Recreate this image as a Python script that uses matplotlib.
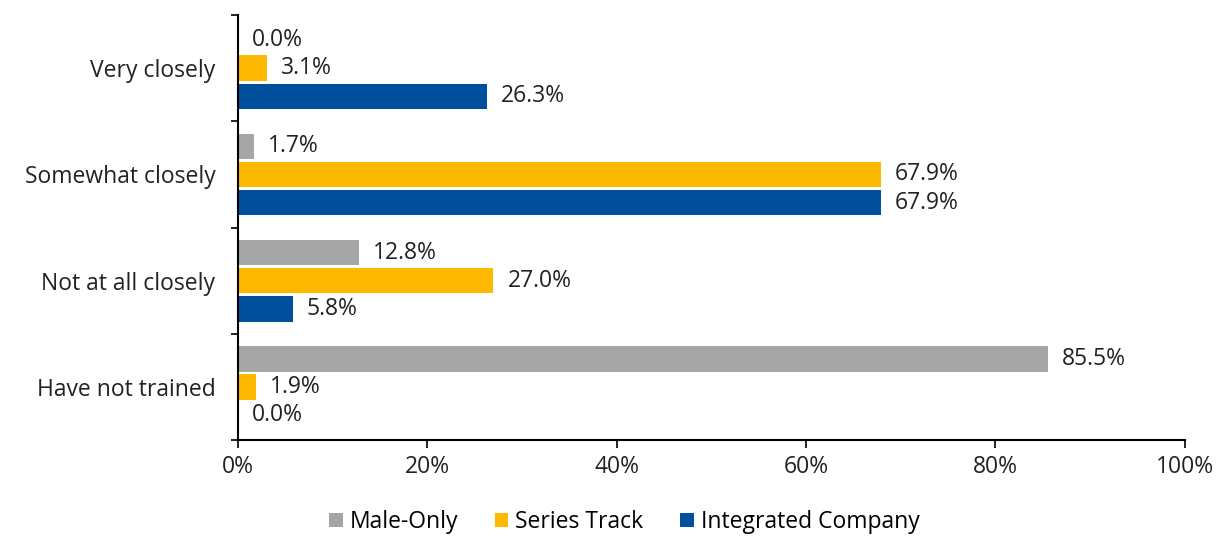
import matplotlib.pyplot as plt
import numpy as np

kategori = ["Very closely", "Somewhat closely", "Not at all closely", "Have not trained"]
seri = ["Male-Only", "Series Track", "Integrated Company"]
male_only = [0.0, 1.7, 12.8, 85.5]
series_track = [3.1, 67.9, 27.0, 1.9]
integrated = [26.3, 67.9, 5.8, 0.0]
warna = ["#A6A6A6", "#FFB800", "#00509E"]

plt.rcParams['font.family'] = ['Open Sans', 'DejaVu Sans']
fs = 16.5

fig = plt.figure(figsize=(12.19, 5.38), dpi=100)
ax = fig.add_axes([0.195, 0.182, 0.777, 0.79])

y = np.arange(len(kategori))
tinggi = 0.24
jarak = 0.265
for i, (nama, nilai) in enumerate(zip(seri, [male_only, series_track, integrated])):
    pos = y + (i - 1) * jarak
    ax.barh(pos, nilai, height=tinggi, color=warna[i], label=nama)
    for p, v in zip(pos, nilai):
        ax.text(v + 1.5, p, f"{v:.1f}%", va='center', ha='left', fontsize=fs, color='#222222')

ax.set_ylim(len(kategori) - 0.5, -0.5)
ax.set_xlim(0, 100)
ax.set_xticks(np.arange(0, 101, 20))
ax.set_xticklabels([f"{t}%" for t in range(0, 101, 20)], fontsize=fs, color='#222222')
ax.set_yticks(y)
ax.set_yticklabels(kategori, fontsize=fs, color='#222222')
ax.tick_params(axis='y', length=0, pad=16)
ax.set_yticks(np.arange(-0.5, len(kategori), 1), minor=True)
ax.tick_params(axis='y', which='minor', length=5, width=1.2)
ax.tick_params(axis='x', length=6, width=1.2, pad=5)
for s in ['top', 'right']:
    ax.spines[s].set_visible(False)
for s in ['left', 'bottom']:
    ax.spines[s].set_linewidth(1.5)

fig.legend(loc='center', bbox_to_anchor=(0.512, 0.03), ncol=3, frameon=False,
           fontsize=fs, handlelength=0.6, handleheight=0.6, handletextpad=0.3, columnspacing=1.6)

plt.savefig("out.png", dpi=100)
